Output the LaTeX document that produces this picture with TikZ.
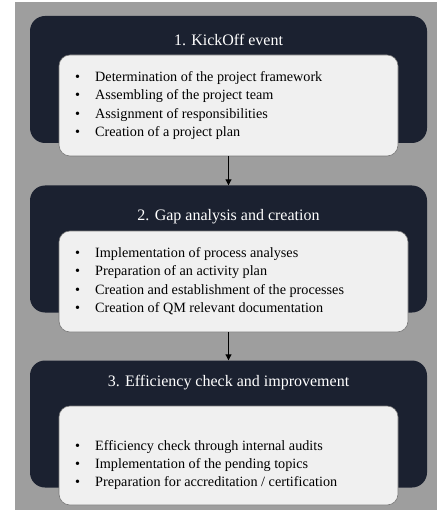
\documentclass[tikz,border=0pt]{standalone}
\usepackage{fontspec}
\setmainfont{Liberation Serif}
\usetikzlibrary{arrows.meta}
\definecolor{bggray}{HTML}{9E9E9E}
\definecolor{darkbox}{HTML}{1B2130}
\definecolor{lightbox}{HTML}{F0F0F0}
\definecolor{lightedge}{HTML}{7A7A7A}
\begin{document}
\begin{tikzpicture}[x=1pt,y=-1pt,
  darkstage/.style={fill=darkbox,draw=none,rounded corners=15pt,inner sep=0pt,minimum width=397pt,minimum height=127pt},
  lightstage/.style={fill=lightbox,draw=lightedge,line width=0.6pt,rounded corners=11pt,inner sep=0pt,minimum height=101pt},
  stagetitle/.style={text=white,font=\fontsize{16}{18}\selectfont,inner sep=0pt},
  itemlist/.style={anchor=west,align=left,inner sep=0pt,font=\fontsize{14.2}{18.4}\selectfont},
  flow/.style={draw=black,line width=1pt,-{Triangle[length=6pt,width=6pt]}}]
\useasboundingbox (0,0) rectangle (437,510);
\fill[white] (0,0) rectangle (437,510);
\fill[bggray] (15,2) rectangle (437,510);
\newcommand{\itm}[1]{\makebox[20pt][l]{\textbullet}#1}
% stage 1
\node[darkstage] (d1) at (228.5,79.5) {};
\node[stagetitle] (t1) at (228.5,40) {1. KickOff event};
\node[lightstage,minimum width=339pt] (w1) at (228.5,105.5) {};
\node[itemlist] (l1) at (75,105.5) {\itm{Determination of the project framework}\\
\itm{Assembling of the project team}\\
\itm{Assignment of responsibilities}\\
\itm{Creation of a project plan}};
% stage 2
\node[darkstage] (d2) at (228.5,249) {};
\node[stagetitle] (t2) at (228.5,217) {2. Gap analysis and creation};
\node[lightstage,minimum width=349pt] (w2) at (233.5,281.5) {};
\node[itemlist] (l2) at (75,281) {\itm{Implementation of process analyses}\\
\itm{Preparation of an activity plan}\\
\itm{Creation and establishment of the processes}\\
\itm{Creation of QM relevant documentation}};
% stage 3
\node[darkstage] (d3) at (228.5,424) {};
\node[stagetitle] (t3) at (228.5,383) {3. Efficiency check and improvement};
\node[lightstage,minimum width=339pt,minimum height=99pt] (w3) at (228.5,455.5) {};
\node[itemlist] (l3) at (75,465) {\itm{Efficiency check through internal audits}\\
\itm{Implementation of the pending topics}\\
\itm{Preparation for accreditation / certification}};
% connectors
\draw[flow] (w1.south) -- (d2.north);
\draw[flow] (d3.north |- w2.south) -- (d3.north);
\end{tikzpicture}
\end{document}
